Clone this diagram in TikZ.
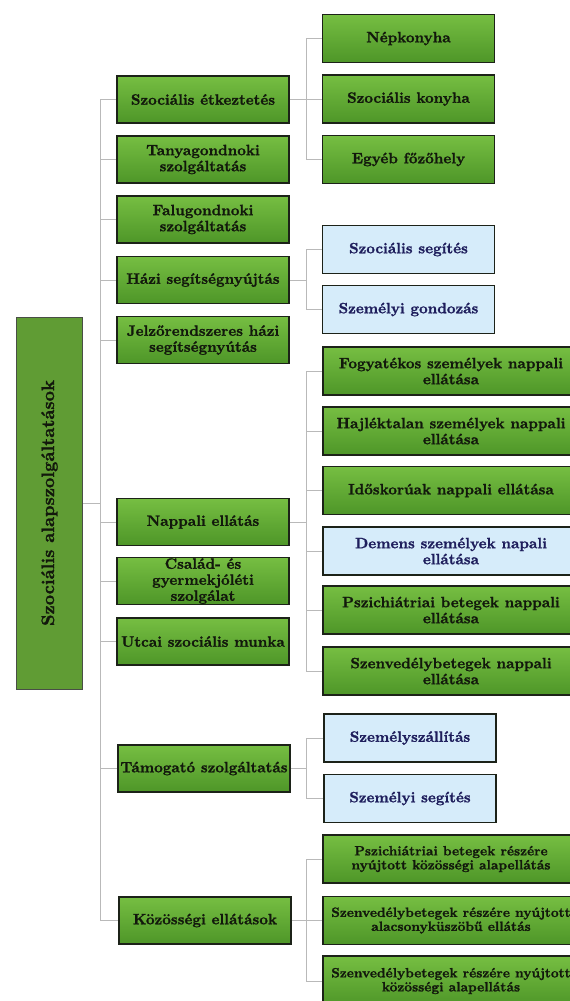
\documentclass[tikz,border=0pt]{standalone}
\usepackage{fontspec}
\newfontfamily\heavyfont{lmroman10-bold.otf}[FakeBold=1.2]
\definecolor{gtop}{RGB}{118,190,66}
\definecolor{gbot}{RGB}{78,150,40}
\definecolor{rootg}{RGB}{96,156,52}
\definecolor{lblue}{RGB}{214,236,250}
\definecolor{boxline}{RGB}{28,34,24}
\definecolor{gtext}{RGB}{18,24,12}
\definecolor{navy}{RGB}{30,30,92}
\definecolor{linegray}{RGB}{185,185,185}
\tikzset{
  basebox/.style={draw=boxline, line width=1.8pt, align=center, inner xsep=1pt, inner ysep=0pt,
    font=\heavyfont\fontsize{15}{16}\selectfont},
  gbox/.style={basebox, top color=gtop, bottom color=gbot, text=gtext},
  bbox/.style={basebox, fill=lblue, text=navy},
  lone/.style={minimum width=172, minimum height=47},
  ltwo/.style={minimum width=172, minimum height=48},
  lwide/.style={minimum width=256, minimum height=48},
  smallfont/.style={font=\heavyfont\fontsize{13.5}{14}\selectfont},
  rootbox/.style={draw=boxline!80, line width=1pt, fill=rootg, text=gtext,
    font=\heavyfont\fontsize{18}{20}\selectfont},
  conn/.style={draw=linegray, line width=0.8pt}
}
\begin{document}
\begin{tikzpicture}[x=1pt,y=-1pt]
\useasboundingbox (0,0) rectangle (570,1001);
% root
\node[rootbox, rotate=90, minimum width=372, minimum height=66] (root) at (49.5,503) {Szociális alapszolgáltatások};
% level 1
\node[gbox, lone] (A1) at (203,99.5) {Szociális étkeztetés};
\node[gbox, lone] (A2) at (203,159.5) {Tanyagondnoki\\szolgáltatás};
\node[gbox, lone] (A3) at (203,219.5) {Falugondnoki\\szolgáltatás};
\node[gbox, lone] (A4) at (203,280) {Házi segítségnyújtás};
\node[gbox, lone] (A5) at (203,340) {Jelzőrendszeres házi\\segítségnyútás};
\node[gbox, lone] (A6) at (203,522) {Nappali ellátás};
\node[gbox, lone] (A7) at (203,581) {Család- és\\gyermekjóléti\\szolgálat};
\node[gbox, lone] (A8) at (203,641.5) {Utcai szociális munka};
\node[gbox, lone] (A9) at (204,768.5) {Támogató szolgáltatás};
\node[gbox, lone] (A10) at (205,920.5) {Közösségi ellátások};
% level 2
\node[gbox, ltwo] (B1) at (408.5,38.5) {Népkonyha};
\node[gbox, ltwo] (B2) at (408.5,99) {Szociális konyha};
\node[gbox, ltwo] (B3) at (408.5,159.5) {Egyéb főzőhely};
\node[bbox, ltwo] (C1) at (408.5,249.5) {Szociális segítés};
\node[bbox, ltwo] (C2) at (408.5,309.5) {Személyi gondozás};
\node[gbox, lwide] (D1) at (451,371) {Fogyatékos személyek nappali\\ellátása};
\node[gbox, lwide] (D2) at (451,431) {Hajléktalan személyek nappali\\ellátása};
\node[gbox, lwide] (D3) at (451,490.5) {Időskorúak nappali ellátása};
\node[bbox, lwide] (D4) at (451,551) {Demens személyek napali\\ellátása};
\node[gbox, lwide] (D5) at (451,610) {Pszichiátriai betegek nappali\\ellátása};
\node[gbox, lwide] (D6) at (451,671) {Szenvedélybetegek nappali\\ellátása};
\node[bbox, ltwo] (E1) at (410,738) {Személyszállítás};
\node[bbox, ltwo] (E2) at (410,798.5) {Személyi segítés};
\node[gbox, lwide, smallfont] (F1) at (451,859) {Pszichiátriai betegek részére\\nyújtott közösségi alapellátás};
\node[gbox, lwide, smallfont] (F2) at (451,920.5) {Szenvedélybetegek részére nyújtott\\alacsonyküszöbű ellátás};
\node[gbox, lwide, smallfont, minimum height=50] (F3) at (451,981) {Szenvedélybetegek részére nyújtott\\közösségi alapellátás};
% buses
\coordinate (b1) at (100,0);
\coordinate (b2) at (306,0);
\draw[conn] (root.south) -- (root.south -| b1);
\draw[conn] (A1.west -| b1) -- (A10.west -| b1);
\foreach \n in {A1,A2,A3,A4,A5,A6,A7,A8,A9,A10}
  \draw[conn] (\n.west -| b1) -- (\n.west);
% level 2 connectors
\draw[conn] (A1.east) -- (A1.east -| b2);
\draw[conn] (B1.west -| b2) -- (B3.west -| b2);
\foreach \n in {B1,B2,B3} \draw[conn] (\n.west -| b2) -- (\n.west);
\draw[conn] (A4.east) -- (A4.east -| b2);
\draw[conn] (C1.west -| b2) -- (C2.west -| b2);
\foreach \n in {C1,C2} \draw[conn] (\n.west -| b2) -- (\n.west);
\draw[conn] (A6.east) -- (A6.east -| b2);
\draw[conn] (D1.west -| b2) -- (D6.west -| b2);
\foreach \n in {D1,D2,D3,D4,D5,D6} \draw[conn] (\n.west -| b2) -- (\n.west);
\draw[conn] (A9.east) -- (A9.east -| b2);
\draw[conn] (E1.west -| b2) -- (E2.west -| b2);
\foreach \n in {E1,E2} \draw[conn] (\n.west -| b2) -- (\n.west);
\draw[conn] (A10.east) -- (A10.east -| b2);
\draw[conn] (F1.west -| b2) -- (F3.west -| b2);
\foreach \n in {F1,F2,F3} \draw[conn] (\n.west -| b2) -- (\n.west);
\end{tikzpicture}
\end{document}
